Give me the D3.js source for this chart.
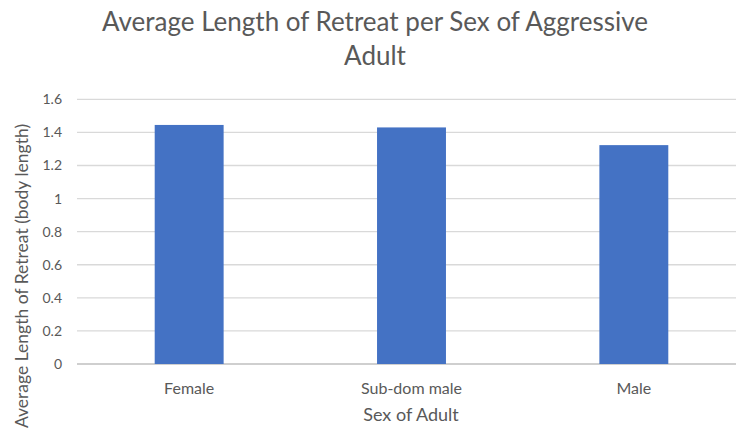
<!DOCTYPE html>
<html>
<head>
<meta charset="utf-8">
<script src="https://cdn.jsdelivr.net/npm/d3@7"></script>
<style>
  body { margin: 0; background: #fff; }
  text { font-family: Lato, "Open Sans", sans-serif; fill: #595959; }
</style>
</head>
<body>
<div id="chart"></div>
<script>
// data
const categories = ["Female", "Sub-dom male", "Male"];
const values = [1.445, 1.43, 1.323];
const yTicks = [0, 0.2, 0.4, 0.6, 0.8, 1, 1.2, 1.4, 1.6];

const width = 736, height = 445;

var svg = d3.select("#chart").append("svg")
    .attr("width", width)
    .attr("height", height);

// plot area (right side runs past the picture edge, like the source crop)
var x = d3.scaleBand()
    .domain(categories)
    .range([78, 745])
    .paddingInner(0.69)
    .paddingOuter(0.345);

var y = d3.scaleLinear()
    .domain([0, 1.6])
    .range([364, 99.3]);

// gridlines
svg.append("g")
    .selectAll("line")
    .data(yTicks)
    .enter()
    .append("line")
        .attr("x1", 77)
        .attr("x2", width)
        .attr("y1", d => y(d))
        .attr("y2", d => y(d))
        .attr("stroke", d => d === 0 ? "#bfbfbf" : "#d9d9d9")
        .attr("stroke-width", 1.3);

// y axis labels
var yAxis = svg.append("g")
    .attr("transform", "translate(62,0)")
    .call(d3.axisLeft(y).tickValues(yTicks).tickSize(0).tickFormat(d3.format("")));
yAxis.select(".domain").remove();
yAxis.selectAll("text")
    .attr("x", 0)
    .style("font-size", "14px")
    .style("fill", "#595959");

// bars
svg.append("g")
    .selectAll("rect")
    .data(values)
    .enter()
    .append("rect")
        .attr("x", (d, i) => x(categories[i]))
        .attr("y", d => y(d))
        .attr("width", x.bandwidth())
        .attr("height", d => y(0) - y(d))
        .style("fill", "#4472c4");

// x axis labels
var xAxis = svg.append("g")
    .attr("transform", "translate(0," + 364 + ")")
    .call(d3.axisBottom(x).tickSize(0));
xAxis.select(".domain").remove();
xAxis.selectAll("text")
    .attr("y", 30)
    .attr("dy", 0)
    .style("font-size", "16px")
    .style("fill", "#595959");

// titles
svg.append("text")
    .attr("text-anchor", "middle")
    .attr("x", 375)
    .attr("y", 31)
    .style("font-size", "26px")
    .text("Average Length of Retreat per Sex of Aggressive");
svg.append("text")
    .attr("text-anchor", "middle")
    .attr("x", 375)
    .attr("y", 65)
    .style("font-size", "26px")
    .text("Adult");

svg.append("text")
    .attr("text-anchor", "middle")
    .attr("x", 411)
    .attr("y", 421)
    .style("font-size", "18px")
    .text("Sex of Adult");

svg.append("text")
    .attr("text-anchor", "middle")
    .attr("transform", "translate(28,276) rotate(-90)")
    .style("font-size", "17.5px")
    .text("Average Length of Retreat (body length)");
</script>
</body>
</html>
